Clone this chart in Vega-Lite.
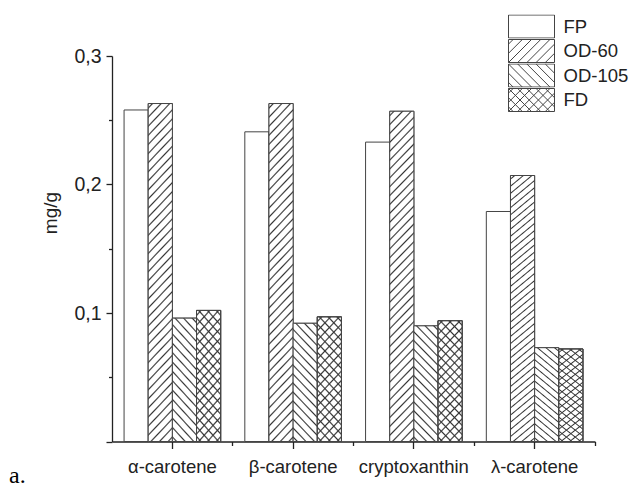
{
  "$schema": "https://vega.github.io/schema/vega-lite/v6.json",
  "width": 483,
  "height": 385.5,
  "autosize": {"type": "none"},
  "padding": {"left": 112, "top": 56, "right": 36, "bottom": 48.5},
  "title": {
    "text": "a.",
    "orient": "bottom",
    "anchor": "start",
    "frame": "group",
    "font": "Liberation Serif",
    "fontSize": 24,
    "fontWeight": "normal",
    "color": "#000",
    "baseline": "alphabetic",
    "dx": -103,
    "offset": 7
  },
  "data": {
    "values": [
      {"c": "α-carotene", "s": "FP", "v": 0.258},
      {"c": "α-carotene", "s": "OD-60", "v": 0.263},
      {"c": "α-carotene", "s": "OD-105", "v": 0.096},
      {"c": "α-carotene", "s": "FD", "v": 0.102},
      {"c": "β-carotene", "s": "FP", "v": 0.241},
      {"c": "β-carotene", "s": "OD-60", "v": 0.263},
      {"c": "β-carotene", "s": "OD-105", "v": 0.092},
      {"c": "β-carotene", "s": "FD", "v": 0.097},
      {"c": "cryptoxanthin", "s": "FP", "v": 0.233},
      {"c": "cryptoxanthin", "s": "OD-60", "v": 0.257},
      {"c": "cryptoxanthin", "s": "OD-105", "v": 0.090},
      {"c": "cryptoxanthin", "s": "FD", "v": 0.094},
      {"c": "λ-carotene", "s": "FP", "v": 0.179},
      {"c": "λ-carotene", "s": "OD-60", "v": 0.207},
      {"c": "λ-carotene", "s": "OD-105", "v": 0.073},
      {"c": "λ-carotene", "s": "FD", "v": 0.072}
    ]
  },
  "encoding": {
    "xOffset": {
      "field": "s",
      "type": "nominal",
      "scale": {"domain": ["FP", "OD-60", "OD-105", "FD"], "paddingInner": 0, "paddingOuter": 0}
    },
    "y": {
      "field": "v",
      "type": "quantitative",
      "scale": {"domain": [0, 0.3], "nice": false, "zero": true},
      "axis": {
        "title": "mg/g",
        "values": [0, 0.05, 0.1, 0.15, 0.2, 0.25, 0.3],
        "labelExpr": "datum.value === 0 || round(datum.value * 100) % 10 !== 0 ? '' : replace(format(datum.value, '.1f'), '.', ',')",
        "tickSize": {"condition": {"test": "round(datum.value * 100) % 10 === 0", "value": 6}, "value": 3.5},
        "labelFontSize": 19.5,
        "labelPadding": 5,
        "domainWidth": 1.3,
        "tickWidth": 1.3,
        "titleFontSize": 19,
        "titleFontWeight": "normal",
        "titleAngle": -90,
        "titleAlign": "center",
        "titleBaseline": "middle",
        "titleX": -62,
        "titleY": 156.5
      }
    }
  },
  "layer": [
    {
      "mark": {"type": "bar", "stroke": "#444", "strokeWidth": 1},
      "encoding": {
        "x": {
          "field": "c",
          "type": "nominal",
          "scale": {"domain": ["α-carotene", "β-carotene", "cryptoxanthin", "λ-carotene"], "paddingInner": 0.2, "paddingOuter": 0.1},
          "axis": {"title": null, "labelAngle": 0, "labelFontSize": 18.5, "labelPadding": 9, "tickSize": 7, "domainWidth": 1.3, "tickWidth": 1.3}
        },
        "fill": {
          "field": "s",
          "type": "nominal",
          "scale": {"domain": ["FP", "OD-60", "OD-105", "FD"], "range": ["#fff", "#fff", "#fff", "#fff"]},
          "legend": {
            "title": null,
            "orient": "none",
            "legendX": 396,
            "legendY": -41.5,
            "padding": 0,
            "symbolType": "M-1,-0.5H1V0.5H-1Z",
            "symbolSize": 2116,
            "symbolStrokeColor": "#444",
            "symbolStrokeWidth": 1,
            "symbolFillColor": "#fff",
            "clipHeight": 24,
            "rowPadding": 0.5,
            "labelFontSize": 18.5,
            "labelColor": "#222",
            "labelOffset": 8.5,
            "encode": {
              "symbols": {
                "update": {
                  "shape": [
                    {"test": "datum.value === 'OD-60'", "value": "M-1,-0.5H1V0.5H-1ZM-1,-0.3L-0.8,-0.5M-1,0.1L-0.4,-0.5M-1,0.5L0,-0.5M-0.6,0.5L0.4,-0.5M-0.2,0.5L0.8,-0.5M0.2,0.5L1,-0.3M0.6,0.5L1,0.1"},
                    {"test": "datum.value === 'OD-105'", "value": "M-1,-0.5H1V0.5H-1ZM-1,0.3L-0.8,0.5M-1,-0.1L-0.4,0.5M-1,-0.5L0,0.5M-0.6,-0.5L0.4,0.5M-0.2,-0.5L0.8,0.5M0.2,-0.5L1,0.3M0.6,-0.5L1,-0.1"},
                    {"test": "datum.value === 'FD'", "value": "M-1,-0.5H1V0.5H-1ZM-1,-0.3L-0.8,-0.5M-1,0.1L-0.4,-0.5M-1,0.5L0,-0.5M-0.6,0.5L0.4,-0.5M-0.2,0.5L0.8,-0.5M0.2,0.5L1,-0.3M0.6,0.5L1,0.1M-1,0.3L-0.8,0.5M-1,-0.1L-0.4,0.5M-1,-0.5L0,0.5M-0.6,-0.5L0.4,0.5M-0.2,-0.5L0.8,0.5M0.2,-0.5L1,0.3M0.6,-0.5L1,-0.1"},
                    {"value": "M-1,-0.5H1V0.5H-1Z"}
                  ],
                  "fill": {"value": "#fff"},
                  "stroke": {"value": "#444"},
                  "strokeWidth": {"value": 1},
                  "opacity": {"value": 1}
                }
              }
            }
          }
        }
      }
    },
    {
      "transform": [{"filter": "datum.s !== 'FP'"}],
      "mark": {"type": "bar", "stroke": "#444", "strokeWidth": 1},
      "encoding": {
        "x": {
          "field": "c",
          "type": "nominal",
          "scale": {"domain": ["α-carotene", "β-carotene", "cryptoxanthin", "λ-carotene"], "paddingInner": 0.2, "paddingOuter": 0.1},
          "axis": {"orient": "bottom", "title": null, "labels": false, "domain": false, "bandPosition": 1.125, "tickSize": 4, "tickWidth": 1.3}
        },
        "fill": {
          "condition": [
            {
              "test": "datum.s === 'OD-60'",
              "value": {
                "gradient": "linear", "x1": 0, "y1": 0, "x2": 0.0807, "y2": 1.0694,
                "stops": [
                  {"offset": 0.008, "color": "#fff"}, {"offset": 0.0125, "color": "#333"}, {"offset": 0.017, "color": "#fff"},
                  {"offset": 0.033, "color": "#fff"}, {"offset": 0.0375, "color": "#333"}, {"offset": 0.042, "color": "#fff"},
                  {"offset": 0.058, "color": "#fff"}, {"offset": 0.0625, "color": "#333"}, {"offset": 0.067, "color": "#fff"},
                  {"offset": 0.083, "color": "#fff"}, {"offset": 0.0875, "color": "#333"}, {"offset": 0.092, "color": "#fff"},
                  {"offset": 0.108, "color": "#fff"}, {"offset": 0.1125, "color": "#333"}, {"offset": 0.117, "color": "#fff"},
                  {"offset": 0.133, "color": "#fff"}, {"offset": 0.1375, "color": "#333"}, {"offset": 0.142, "color": "#fff"},
                  {"offset": 0.158, "color": "#fff"}, {"offset": 0.1625, "color": "#333"}, {"offset": 0.167, "color": "#fff"},
                  {"offset": 0.183, "color": "#fff"}, {"offset": 0.1875, "color": "#333"}, {"offset": 0.192, "color": "#fff"},
                  {"offset": 0.208, "color": "#fff"}, {"offset": 0.2125, "color": "#333"}, {"offset": 0.217, "color": "#fff"},
                  {"offset": 0.233, "color": "#fff"}, {"offset": 0.2375, "color": "#333"}, {"offset": 0.242, "color": "#fff"},
                  {"offset": 0.258, "color": "#fff"}, {"offset": 0.2625, "color": "#333"}, {"offset": 0.267, "color": "#fff"},
                  {"offset": 0.283, "color": "#fff"}, {"offset": 0.2875, "color": "#333"}, {"offset": 0.292, "color": "#fff"},
                  {"offset": 0.308, "color": "#fff"}, {"offset": 0.3125, "color": "#333"}, {"offset": 0.317, "color": "#fff"},
                  {"offset": 0.333, "color": "#fff"}, {"offset": 0.3375, "color": "#333"}, {"offset": 0.342, "color": "#fff"},
                  {"offset": 0.358, "color": "#fff"}, {"offset": 0.3625, "color": "#333"}, {"offset": 0.367, "color": "#fff"},
                  {"offset": 0.383, "color": "#fff"}, {"offset": 0.3875, "color": "#333"}, {"offset": 0.392, "color": "#fff"},
                  {"offset": 0.408, "color": "#fff"}, {"offset": 0.4125, "color": "#333"}, {"offset": 0.417, "color": "#fff"},
                  {"offset": 0.433, "color": "#fff"}, {"offset": 0.4375, "color": "#333"}, {"offset": 0.442, "color": "#fff"},
                  {"offset": 0.458, "color": "#fff"}, {"offset": 0.4625, "color": "#333"}, {"offset": 0.467, "color": "#fff"},
                  {"offset": 0.483, "color": "#fff"}, {"offset": 0.4875, "color": "#333"}, {"offset": 0.492, "color": "#fff"},
                  {"offset": 0.508, "color": "#fff"}, {"offset": 0.5125, "color": "#333"}, {"offset": 0.517, "color": "#fff"},
                  {"offset": 0.533, "color": "#fff"}, {"offset": 0.5375, "color": "#333"}, {"offset": 0.542, "color": "#fff"},
                  {"offset": 0.558, "color": "#fff"}, {"offset": 0.5625, "color": "#333"}, {"offset": 0.567, "color": "#fff"},
                  {"offset": 0.583, "color": "#fff"}, {"offset": 0.5875, "color": "#333"}, {"offset": 0.592, "color": "#fff"},
                  {"offset": 0.608, "color": "#fff"}, {"offset": 0.6125, "color": "#333"}, {"offset": 0.617, "color": "#fff"},
                  {"offset": 0.633, "color": "#fff"}, {"offset": 0.6375, "color": "#333"}, {"offset": 0.642, "color": "#fff"},
                  {"offset": 0.658, "color": "#fff"}, {"offset": 0.6625, "color": "#333"}, {"offset": 0.667, "color": "#fff"},
                  {"offset": 0.683, "color": "#fff"}, {"offset": 0.6875, "color": "#333"}, {"offset": 0.692, "color": "#fff"},
                  {"offset": 0.708, "color": "#fff"}, {"offset": 0.7125, "color": "#333"}, {"offset": 0.717, "color": "#fff"},
                  {"offset": 0.733, "color": "#fff"}, {"offset": 0.7375, "color": "#333"}, {"offset": 0.742, "color": "#fff"},
                  {"offset": 0.758, "color": "#fff"}, {"offset": 0.7625, "color": "#333"}, {"offset": 0.767, "color": "#fff"},
                  {"offset": 0.783, "color": "#fff"}, {"offset": 0.7875, "color": "#333"}, {"offset": 0.792, "color": "#fff"},
                  {"offset": 0.808, "color": "#fff"}, {"offset": 0.8125, "color": "#333"}, {"offset": 0.817, "color": "#fff"},
                  {"offset": 0.833, "color": "#fff"}, {"offset": 0.8375, "color": "#333"}, {"offset": 0.842, "color": "#fff"},
                  {"offset": 0.858, "color": "#fff"}, {"offset": 0.8625, "color": "#333"}, {"offset": 0.867, "color": "#fff"},
                  {"offset": 0.883, "color": "#fff"}, {"offset": 0.8875, "color": "#333"}, {"offset": 0.892, "color": "#fff"},
                  {"offset": 0.908, "color": "#fff"}, {"offset": 0.9125, "color": "#333"}, {"offset": 0.917, "color": "#fff"},
                  {"offset": 0.933, "color": "#fff"}, {"offset": 0.9375, "color": "#333"}, {"offset": 0.942, "color": "#fff"},
                  {"offset": 0.958, "color": "#fff"}, {"offset": 0.9625, "color": "#333"}, {"offset": 0.967, "color": "#fff"},
                  {"offset": 0.983, "color": "#fff"}, {"offset": 0.9875, "color": "#333"}, {"offset": 0.992, "color": "#fff"}
                ]
              }
            },
            {
              "test": "datum.s === 'OD-105'",
              "value": {
                "gradient": "linear", "x1": 1, "y1": 0, "x2": 0.7519, "y2": 1.1607,
                "stops": [
                  {"offset": 0.0203, "color": "#fff"}, {"offset": 0.0313, "color": "#333"}, {"offset": 0.0423, "color": "#fff"},
                  {"offset": 0.0828, "color": "#fff"}, {"offset": 0.0938, "color": "#333"}, {"offset": 0.1048, "color": "#fff"},
                  {"offset": 0.1453, "color": "#fff"}, {"offset": 0.1563, "color": "#333"}, {"offset": 0.1673, "color": "#fff"},
                  {"offset": 0.2078, "color": "#fff"}, {"offset": 0.2188, "color": "#333"}, {"offset": 0.2298, "color": "#fff"},
                  {"offset": 0.2703, "color": "#fff"}, {"offset": 0.2813, "color": "#333"}, {"offset": 0.2923, "color": "#fff"},
                  {"offset": 0.3328, "color": "#fff"}, {"offset": 0.3438, "color": "#333"}, {"offset": 0.3548, "color": "#fff"},
                  {"offset": 0.3953, "color": "#fff"}, {"offset": 0.4063, "color": "#333"}, {"offset": 0.4173, "color": "#fff"},
                  {"offset": 0.4578, "color": "#fff"}, {"offset": 0.4688, "color": "#333"}, {"offset": 0.4798, "color": "#fff"},
                  {"offset": 0.5203, "color": "#fff"}, {"offset": 0.5313, "color": "#333"}, {"offset": 0.5423, "color": "#fff"},
                  {"offset": 0.5828, "color": "#fff"}, {"offset": 0.5938, "color": "#333"}, {"offset": 0.6048, "color": "#fff"},
                  {"offset": 0.6453, "color": "#fff"}, {"offset": 0.6563, "color": "#333"}, {"offset": 0.6673, "color": "#fff"},
                  {"offset": 0.7078, "color": "#fff"}, {"offset": 0.7188, "color": "#333"}, {"offset": 0.7298, "color": "#fff"},
                  {"offset": 0.7703, "color": "#fff"}, {"offset": 0.7813, "color": "#333"}, {"offset": 0.7923, "color": "#fff"},
                  {"offset": 0.8328, "color": "#fff"}, {"offset": 0.8438, "color": "#333"}, {"offset": 0.8548, "color": "#fff"},
                  {"offset": 0.8953, "color": "#fff"}, {"offset": 0.9063, "color": "#333"}, {"offset": 0.9173, "color": "#fff"},
                  {"offset": 0.9578, "color": "#fff"}, {"offset": 0.9688, "color": "#333"}, {"offset": 0.9798, "color": "#fff"}
                ]
              }
            },
            {
              "test": "datum.s === 'FD'",
              "value": {
                "gradient": "linear", "x1": 1, "y1": 0, "x2": 0.7612, "y2": 1.1571,
                "stops": [
                  {"offset": 0.0203, "color": "#fff"}, {"offset": 0.0313, "color": "#333"}, {"offset": 0.0423, "color": "#fff"},
                  {"offset": 0.0828, "color": "#fff"}, {"offset": 0.0938, "color": "#333"}, {"offset": 0.1048, "color": "#fff"},
                  {"offset": 0.1453, "color": "#fff"}, {"offset": 0.1563, "color": "#333"}, {"offset": 0.1673, "color": "#fff"},
                  {"offset": 0.2078, "color": "#fff"}, {"offset": 0.2188, "color": "#333"}, {"offset": 0.2298, "color": "#fff"},
                  {"offset": 0.2703, "color": "#fff"}, {"offset": 0.2813, "color": "#333"}, {"offset": 0.2923, "color": "#fff"},
                  {"offset": 0.3328, "color": "#fff"}, {"offset": 0.3438, "color": "#333"}, {"offset": 0.3548, "color": "#fff"},
                  {"offset": 0.3953, "color": "#fff"}, {"offset": 0.4063, "color": "#333"}, {"offset": 0.4173, "color": "#fff"},
                  {"offset": 0.4578, "color": "#fff"}, {"offset": 0.4688, "color": "#333"}, {"offset": 0.4798, "color": "#fff"},
                  {"offset": 0.5203, "color": "#fff"}, {"offset": 0.5313, "color": "#333"}, {"offset": 0.5423, "color": "#fff"},
                  {"offset": 0.5828, "color": "#fff"}, {"offset": 0.5938, "color": "#333"}, {"offset": 0.6048, "color": "#fff"},
                  {"offset": 0.6453, "color": "#fff"}, {"offset": 0.6563, "color": "#333"}, {"offset": 0.6673, "color": "#fff"},
                  {"offset": 0.7078, "color": "#fff"}, {"offset": 0.7188, "color": "#333"}, {"offset": 0.7298, "color": "#fff"},
                  {"offset": 0.7703, "color": "#fff"}, {"offset": 0.7813, "color": "#333"}, {"offset": 0.7923, "color": "#fff"},
                  {"offset": 0.8328, "color": "#fff"}, {"offset": 0.8438, "color": "#333"}, {"offset": 0.8548, "color": "#fff"},
                  {"offset": 0.8953, "color": "#fff"}, {"offset": 0.9063, "color": "#333"}, {"offset": 0.9173, "color": "#fff"},
                  {"offset": 0.9578, "color": "#fff"}, {"offset": 0.9688, "color": "#333"}, {"offset": 0.9798, "color": "#fff"}
                ]
              }
            }
          ],
          "value": "#fff"
        }
      }
    },
    {
      "transform": [{"filter": "datum.s === 'FD'"}],
      "mark": {
        "type": "bar",
        "stroke": "#444",
        "strokeWidth": 1,
        "fill": {
          "gradient": "linear", "x1": 0, "y1": 0, "x2": 0.2388, "y2": 1.1571,
          "stops": [
            {"offset": 0.0203, "color": "rgba(51,51,51,0)"}, {"offset": 0.0313, "color": "#333"}, {"offset": 0.0423, "color": "rgba(51,51,51,0)"},
            {"offset": 0.0828, "color": "rgba(51,51,51,0)"}, {"offset": 0.0938, "color": "#333"}, {"offset": 0.1048, "color": "rgba(51,51,51,0)"},
            {"offset": 0.1453, "color": "rgba(51,51,51,0)"}, {"offset": 0.1563, "color": "#333"}, {"offset": 0.1673, "color": "rgba(51,51,51,0)"},
            {"offset": 0.2078, "color": "rgba(51,51,51,0)"}, {"offset": 0.2188, "color": "#333"}, {"offset": 0.2298, "color": "rgba(51,51,51,0)"},
            {"offset": 0.2703, "color": "rgba(51,51,51,0)"}, {"offset": 0.2813, "color": "#333"}, {"offset": 0.2923, "color": "rgba(51,51,51,0)"},
            {"offset": 0.3328, "color": "rgba(51,51,51,0)"}, {"offset": 0.3438, "color": "#333"}, {"offset": 0.3548, "color": "rgba(51,51,51,0)"},
            {"offset": 0.3953, "color": "rgba(51,51,51,0)"}, {"offset": 0.4063, "color": "#333"}, {"offset": 0.4173, "color": "rgba(51,51,51,0)"},
            {"offset": 0.4578, "color": "rgba(51,51,51,0)"}, {"offset": 0.4688, "color": "#333"}, {"offset": 0.4798, "color": "rgba(51,51,51,0)"},
            {"offset": 0.5203, "color": "rgba(51,51,51,0)"}, {"offset": 0.5313, "color": "#333"}, {"offset": 0.5423, "color": "rgba(51,51,51,0)"},
            {"offset": 0.5828, "color": "rgba(51,51,51,0)"}, {"offset": 0.5938, "color": "#333"}, {"offset": 0.6048, "color": "rgba(51,51,51,0)"},
            {"offset": 0.6453, "color": "rgba(51,51,51,0)"}, {"offset": 0.6563, "color": "#333"}, {"offset": 0.6673, "color": "rgba(51,51,51,0)"},
            {"offset": 0.7078, "color": "rgba(51,51,51,0)"}, {"offset": 0.7188, "color": "#333"}, {"offset": 0.7298, "color": "rgba(51,51,51,0)"},
            {"offset": 0.7703, "color": "rgba(51,51,51,0)"}, {"offset": 0.7813, "color": "#333"}, {"offset": 0.7923, "color": "rgba(51,51,51,0)"},
            {"offset": 0.8328, "color": "rgba(51,51,51,0)"}, {"offset": 0.8438, "color": "#333"}, {"offset": 0.8548, "color": "rgba(51,51,51,0)"},
            {"offset": 0.8953, "color": "rgba(51,51,51,0)"}, {"offset": 0.9063, "color": "#333"}, {"offset": 0.9173, "color": "rgba(51,51,51,0)"},
            {"offset": 0.9578, "color": "rgba(51,51,51,0)"}, {"offset": 0.9688, "color": "#333"}, {"offset": 0.9798, "color": "rgba(51,51,51,0)"}
          ]
        }
      },
      "encoding": {
        "x": {
          "field": "c",
          "type": "nominal",
          "scale": {"domain": ["α-carotene", "β-carotene", "cryptoxanthin", "λ-carotene"], "paddingInner": 0.2, "paddingOuter": 0.1},
          "axis": null
        }
      }
    }
  ],
  "resolve": {"axis": {"x": "independent"}},
  "config": {
    "view": {"stroke": null},
    "font": "Liberation Sans",
    "axis": {
      "grid": false,
      "labelFont": "Liberation Sans",
      "titleFont": "Liberation Sans",
      "labelColor": "#222",
      "titleColor": "#222",
      "domainColor": "#222",
      "tickColor": "#222"
    },
    "legend": {"labelFont": "Liberation Sans"}
  }
}
